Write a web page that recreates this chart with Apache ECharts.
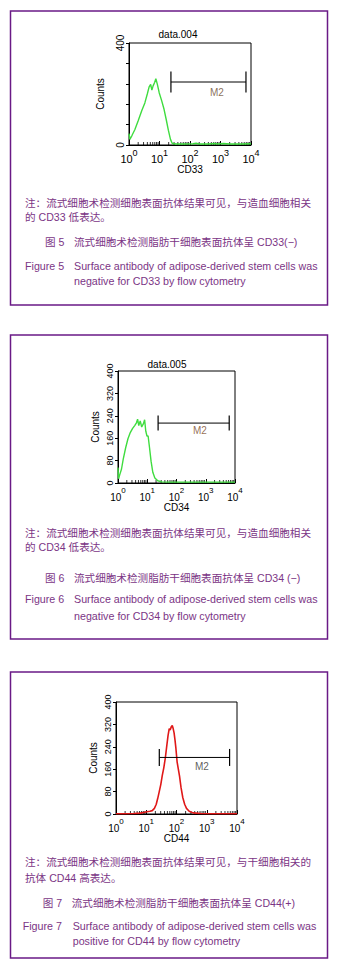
<!DOCTYPE html>
<html>
<head>
<meta charset="utf-8">
<script src="https://cdn.jsdelivr.net/npm/echarts@6/dist/echarts.min.js"></script>
<style>
html, body { margin: 0; padding: 0; background: #fff; }
#main { width: 339px; height: 972px; }
</style>
</head>
<body>
<div id="main"></div>
<script>
// values (x = fluorescence, log scale; y = counts)
var cd33X = [1, 1.07, 1.26, 1.55, 2, 2.63, 3.31, 3.98, 4.57, 5.13, 5.62, 6.17, 6.92, 7.59, 8.51, 9.77, 11.7, 14.1, 16.6, 19.5, 22.9, 26.3, 35.5, 63, 126, 158, 200, 398, 631, 794, 1259, 1995, 5012, 10000];
var cd33Y = [45, 22, 38, 60, 95, 135, 165, 200, 228, 238, 215, 232, 245, 260, 238, 205, 175, 140, 100, 58, 22, 6, 4, 4, 5, 7, 4, 4, 6, 4, 6, 4, 4, 5];

var cd34X = [1, 1.05, 1.15, 1.32, 1.51, 1.82, 2.19, 2.63, 3.16, 3.72, 4.27, 4.68, 5.13, 5.75, 6.46, 7.41, 8.13, 8.91, 9.77, 10.7, 12, 13.5, 15.5, 18.2, 22.9, 31.6, 63, 158, 398, 1000, 3162, 10000];
var cd34Y = [55, 15, 30, 50, 85, 125, 158, 180, 195, 205, 215, 228, 205, 222, 200, 212, 226, 185, 168, 168, 125, 78, 38, 18, 8, 4, 3, 3, 3, 3, 3, 3];

var cd44X = [1, 2, 3.98, 6.31, 8.91, 10.5, 13.2, 15.8, 18.6, 21.4, 24, 26.9, 30.2, 33.9, 38, 42.7, 47.9, 52.5, 57.5, 61.7, 67.6, 72.4, 77.6, 83.2, 89.1, 95.5, 105, 115, 126, 141, 162, 186, 214, 263, 355, 631, 1585, 3981, 10000];
var cd44Y = [1, 1, 2, 3, 6, 8, 10, 12, 20, 35, 56, 80, 105, 138, 165, 200, 245, 280, 305, 300, 312, 316, 305, 290, 265, 235, 185, 160, 135, 95, 58, 35, 20, 10, 4, 2, 1, 1, 1];

// M2 gate: [start, end, counts level], label anchor [x, counts]
var m2Gates = [[23.7, 6840, 247], [23.5, 6340, 214], [27, 5690, 202]];
var m2Labels = [[760, 204], [630, 187], [695, 168]];

var logMinorTicks = [2, 3, 4, 5, 6, 7, 8, 9, 20, 30, 40, 50, 60, 70, 80, 90, 200, 300, 400, 500, 600, 700, 800, 900, 2000, 3000, 4000, 5000, 6000, 7000, 8000, 9000];

var markers = ['CD33', 'CD34', 'CD44'];
var fileNames = ['data.004', 'data.005', ''];

var notes = [
  ['注：流式细胞术检测细胞表面抗体结果可见，与造血细胞相关', '的 CD33 低表达。'],
  ['注：流式细胞术检测细胞表面抗体结果可见，与造血细胞相关', '的 CD34 低表达。'],
  ['注：流式细胞术检测细胞表面抗体结果可见，与干细胞相关的', '抗体 CD44 高表达。']
];
var figCn = [['图 5', '流式细胞术检测脂肪干细胞表面抗体呈 CD33(−)'], ['图 6', '流式细胞术检测脂肪干细胞表面抗体呈 CD34 (−)'], ['图 7', '流式细胞术检测脂肪干细胞表面抗体呈 CD44(+)']];
var figEn = [
  ['Figure 5', 'Surface antibody of adipose-derived stem cells was', 'negative for CD33 by flow cytometry'],
  ['Figure 6', 'Surface antibody of adipose-derived stem cells was', 'negative for CD34 by flow cytometry'],
  ['Figure 7', 'Surface antibody of adipose-derived stem cells was', 'positive for CD44 by flow cytometry']
];

var histX = [cd33X, cd34X, cd44X];
var histY = [cd33Y, cd34Y, cd44Y];

// layout of the three panels
var panels = [
  { box: [10.5, 11, 317, 294], grid: [129, 43, 122, 102], color: '#3fdc3f', lw: 1.4, tickH: 21, lab: 11, ylab: 10, nameGap: 19, cntGap: 24, titleXY: [178, 34],
    noteY: [202.7, 217.3], figY: 241.7, figX: [45, 74], enY: [266, 280.7], enX: [25, 74], m2Color: '#6b4a30', allY: false },
  { box: [10.5, 335, 317, 304], grid: [118, 371, 117, 112], color: '#3fdc3f', lw: 1.4, tickH: 15, lab: 10, ylab: 9, nameGap: 16, cntGap: 18, titleXY: [167, 364],
    noteY: [532.7, 547.3], figY: 578.3, figX: [45, 74], enY: [599.3, 616], enX: [25, 74], m2Color: '#7a4a2a', allY: true },
  { box: [10.5, 672, 317, 286], grid: [116, 702, 121, 112], color: '#e01818', lw: 1.6, tickH: 17, lab: 10, ylab: 9, nameGap: 16, cntGap: 18, titleXY: [176, 690],
    noteY: [862.3, 878.3], figY: 902.7, figX: [42.7, 71.7], enY: [925.7, 940.7], enX: [22.7, 72.7], m2Color: '#333', allY: true }
];

var textColor = '#7b3585';
var frameColor = '#6a1a86';
var latin = '"Liberation Sans", "Noto Sans CJK SC", sans-serif';

var chart = echarts.init(document.getElementById('main'), null, { renderer: 'svg' });

var grids = [], xAxes = [], yAxes = [], series = [], graphics = [];

panels.forEach(function (p, i) {
  grids.push({ left: p.grid[0], top: p.grid[1], width: p.grid[2], height: p.grid[3], show: true, borderColor: '#000', borderWidth: 1, backgroundColor: '#fff', containLabel: false, outerBoundsMode: 'none' });
  xAxes.push({
    type: 'log', logBase: 10, min: 1, max: 10000, gridIndex: i,
    name: markers[i], nameLocation: 'middle', nameGap: p.nameGap,
    nameTextStyle: { fontSize: 10, color: '#000', fontFamily: latin },
    axisLine: { show: true, lineStyle: { color: '#000', width: 1 } },
    axisTick: { show: true, inside: true, length: 4, lineStyle: { color: '#000' } },
    minorTick: { show: false },
    splitLine: { show: false },
    axisLabel: {
      show: true, margin: 3, color: '#000',
      formatter: function (v) { return '{b|10}{s|' + Math.round(Math.log10(v)) + '}'; },
      rich: {
        b: { fontSize: p.lab, lineHeight: 16, verticalAlign: 'bottom', fontFamily: latin, color: '#000' },
        s: { fontSize: p.lab - 2, lineHeight: 11, verticalAlign: 'top', fontFamily: latin, color: '#000' }
      }
    }
  });
  yAxes.push({
    type: 'value', min: 0, max: 400, interval: 80, gridIndex: i,
    name: 'Counts', nameLocation: 'middle', nameRotate: 90, nameGap: p.cntGap,
    nameTextStyle: { fontSize: 10, color: '#000', fontFamily: latin },
    axisLine: { show: true, lineStyle: { color: '#000', width: 1 } },
    axisTick: { show: true, inside: false, length: 3, lineStyle: { color: '#000' } },
    splitLine: { show: false },
    axisLabel: {
      show: true, rotate: 90, margin: 4, color: '#000', fontSize: p.ylab, fontFamily: latin,
      formatter: function (v) { return (p.allY || v === 0 || v === 400) ? String(v) : ''; }
    }
  });

  series.push({
    type: 'line', xAxisIndex: i, yAxisIndex: i, showSymbol: false, silent: true, z: 3,
    lineStyle: { color: p.color, width: p.lw },
    data: histX[i].map(function (x, k) { return [x, histY[i][k]]; })
  });
  series.push({
    type: 'scatter', xAxisIndex: i, yAxisIndex: i, silent: true, z: 2,
    symbol: 'rect', symbolSize: [1, 3], symbolOffset: [0, -1.5],
    itemStyle: { color: '#000' },
    data: logMinorTicks.map(function (x) { return [x, 0]; })
  });
  var g = m2Gates[i];
  series.push({
    type: 'line', xAxisIndex: i, yAxisIndex: i, silent: true, z: 4,
    symbol: 'rect', symbolSize: [1.2, p.tickH], showSymbol: true,
    itemStyle: { color: '#000' },
    lineStyle: { color: '#000', width: 1 },
    data: [[g[0], g[2]], [g[1], g[2]]]
  });
  series.push({
    type: 'scatter', xAxisIndex: i, yAxisIndex: i, silent: true, z: 4,
    symbolSize: 0,
    label: { show: true, position: 'inside', formatter: 'M2', color: p.m2Color, fontSize: 10, fontFamily: latin },
    data: [m2Labels[i]]
  });

  graphics.push({ type: 'rect', shape: { x: p.box[0], y: p.box[1], width: p.box[2], height: p.box[3] }, style: { fill: 'none', stroke: frameColor, lineWidth: 1.5 }, z: 100 });
  if (fileNames[i]) {
    graphics.push({ type: 'text', x: p.titleXY[0], y: p.titleXY[1], style: { text: fileNames[i], align: 'center', verticalAlign: 'middle', font: '10px ' + latin, fill: '#000' } });
  }
  notes[i].forEach(function (t, k) {
    graphics.push({ type: 'text', x: 25, y: p.noteY[k], style: { text: t, verticalAlign: 'middle', font: '10.6px ' + latin, fill: textColor } });
  });
  graphics.push({ type: 'text', x: p.figX[0], y: p.figY, style: { text: figCn[i][0], verticalAlign: 'middle', font: '10.6px ' + latin, fill: textColor } });
  graphics.push({ type: 'text', x: p.figX[1], y: p.figY, style: { text: figCn[i][1], verticalAlign: 'middle', font: '10.6px ' + latin, fill: textColor } });
  graphics.push({ type: 'text', x: p.enX[0], y: p.enY[0], style: { text: figEn[i][0], verticalAlign: 'middle', font: '10.7px ' + latin, fill: textColor } });
  graphics.push({ type: 'text', x: p.enX[1], y: p.enY[0], style: { text: figEn[i][1], verticalAlign: 'middle', font: '10.7px ' + latin, fill: textColor } });
  graphics.push({ type: 'text', x: p.enX[1], y: p.enY[1], style: { text: figEn[i][2], verticalAlign: 'middle', font: '10.7px ' + latin, fill: textColor } });
});

chart.setOption({
  animation: false,
  backgroundColor: '#fff',
  grid: grids,
  xAxis: xAxes,
  yAxis: yAxes,
  series: series,
  graphic: { elements: graphics }
});
</script>
</body>
</html>
